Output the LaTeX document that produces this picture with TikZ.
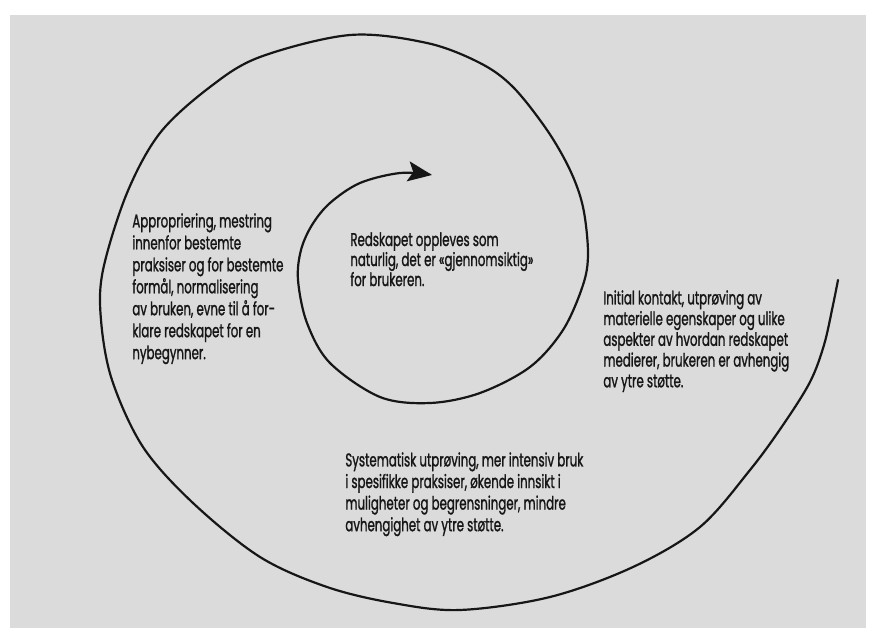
\documentclass[tikz,border=0pt]{standalone}
\usepackage{fontspec}
\setmainfont{Poppins}[FakeStretch=0.64, FakeBold=1.2]
\usepackage{tikz}
\usetikzlibrary{arrows.meta}
\definecolor{paper}{HTML}{DBDBDB}
\definecolor{ink}{HTML}{161616}

\begin{document}
\begin{tikzpicture}[
  x=0.02cm, y=-0.02cm,
  spiral/.style={line width=1.25pt, draw=ink, line cap=round,
                 -{Stealth[length=4.8mm, width=4mm, inset=1mm]}},
  txt/.style={anchor=north west, align=left, inner sep=0pt, text=ink}
]
% page
\useasboundingbox (0,0) rectangle (876,628);
\fill[white] (0,0) rectangle (876,628);
\fill[paper] (10,15) rectangle (866,628);

% spiral, from the outer end inwards
\coordinate (outer) at (838,280);
\coordinate (tip)   at (432,175);
\draw[spiral] plot[smooth, tension=0.55] coordinates {
  (outer) (833,305) (824,345) (810,382) (783,425) (750,470) (700,527)
  (633,567) (550,597) (460,610) (393,603) (327,587) (260,557) (193,503)
  (143,447) (112,380) (101,320) (103,270) (127,193) (160,133) (210,87)
  (260,57) (350,35) (427,43) (480,63) (513,87) (547,130) (570,170)
  (583,207) (588,253) (583,285) (563,330) (530,367) (480,393) (430,403)
  (380,397) (330,363) (307,323) (298,280) (301,250) (312,225) (330,203)
  (360,183) (400,173) (tip)
};

% stage texts
\node[txt, font=\fontsize{10.5}{12.5}\selectfont] (appro) at (132,213)
  {Appropriering, mestring\\innenfor bestemte\\praksiser og for bestemte\\formål, normalisering\\av bruken, evne til å for-\\klare redskapet for en\\nybegynner.};
\node[txt, font=\fontsize{10.5}{11.4}\selectfont] (natur) at (350,232)
  {Redskapet oppleves som\\naturlig, det er «gjennomsiktig»\\for brukeren.};
\node[txt, font=\fontsize{10.5}{11.8}\selectfont] (initial) at (603,290)
  {Initial kontakt, utprøving av\\materielle egenskaper og ulike\\aspekter av hvordan redskapet\\medierer, brukeren er avhengig\\av ytre støtte.};
\node[txt, font=\fontsize{10.5}{12.3}\selectfont] (system) at (345,452)
  {Systematisk utprøving, mer intensiv bruk\\i spesifikke praksiser, økende innsikt i\\muligheter og begrensninger, mindre\\avhengighet av ytre støtte.};
\end{tikzpicture}
\end{document}
